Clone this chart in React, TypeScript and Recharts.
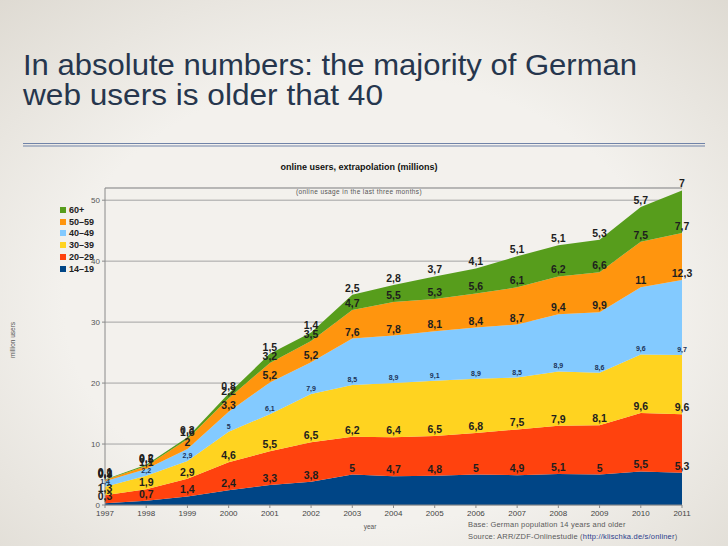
import React from 'react';
import {
  AreaChart,
  Area,
  XAxis,
  YAxis,
  CartesianGrid,
  ReferenceLine,
  LabelList,
  Legend,
} from 'recharts';

// online users by age group, millions (ARD/ZDF-Onlinestudie)
const years = ['1997', '1998', '1999', '2000', '2001', '2002', '2003', '2004', '2005', '2006', '2007', '2008', '2009', '2010', '2011'];
const age14to19 = [0.3, 0.7, 1.4, 2.4, 3.3, 3.8, 5, 4.7, 4.8, 5, 4.9, 5.1, 5, 5.5, 5.3];
const age20to29 = [1.3, 1.9, 2.9, 4.6, 5.5, 6.5, 6.2, 6.4, 6.5, 6.8, 7.5, 7.9, 8.1, 9.6, 9.6];
const age30to39 = [1.4, 2.2, 2.9, 5, 6.1, 7.9, 8.5, 8.9, 9.1, 8.9, 8.5, 8.9, 8.6, 9.6, 9.7];
const age40to49 = [0.9, 1.1, 2, 3.3, 5.2, 5.2, 7.6, 7.8, 8.1, 8.4, 8.7, 9.4, 9.9, 11, 12.3];
const age50to59 = [0.2, 0.5, 1.6, 2.2, 3.2, 3.5, 4.7, 5.5, 5.3, 5.6, 6.1, 6.2, 6.6, 7.5, 7.7];
const age60plus = [0.1, 0.2, 0.3, 0.8, 1.5, 1.4, 2.5, 2.8, 3.7, 4.1, 5.1, 5.1, 5.3, 5.7, 7];
const yTicks = [0, 10, 20, 30, 40, 50];
const Y_MAX = 52;

const series = [
  { key: 'a14', name: '14–19', color: '#004586', values: age14to19 },
  { key: 'a20', name: '20–29', color: '#ff420e', values: age20to29 },
  { key: 'a30', name: '30–39', color: '#ffd320', values: age30to39 },
  { key: 'a40', name: '40–49', color: '#83caff', values: age40to49 },
  { key: 'a50', name: '50–59', color: '#ff950e', values: age50to59 },
  { key: 'a60', name: '60+', color: '#579d1c', values: age60plus },
];

const data = years.map((year, i) => {
  const row: Record<string, any> = { year };
  series.forEach((s) => {
    row[s.key] = s.values[i];
  });
  return row;
});

const FONT = '"Liberation Sans", Arial, Helvetica, sans-serif';

const fmt = (v: any) => String(v).replace('.', ',');

const makeLabel = (small: boolean) => (props: any) => {
  const { x, y, value } = props;
  if (x == null || y == null) return null;
  return (
    <text
      x={x}
      y={y - 3}
      textAnchor="middle"
      fontFamily={FONT}
      fontSize={small ? 7 : 10.5}
      fontWeight="bold"
      fill={small ? '#1c3358' : '#1e1e1e'}
    >
      {fmt(value)}
    </text>
  );
};

const LegendBox = () => (
  <div style={{ fontFamily: FONT, fontSize: 9, fontWeight: 'bold', color: '#222' }}>
    {[...series].reverse().map((s) => (
      <div key={s.key} style={{ display: 'flex', alignItems: 'center', height: 11.8 }}>
        <span style={{ width: 6, height: 6, background: s.color, marginRight: 3 }} />
        {s.name}
      </div>
    ))}
  </div>
);

export default function App() {
  return (
    <div
      style={{
        position: 'absolute',
        left: 0,
        top: 0,
        width: 728,
        height: 546,
        overflow: 'hidden',
        background: 'radial-gradient(ellipse 75% 75% at 50% 55%, #f3f1ed 55%, #dedad2 100%)',
      }}
    >
      <svg width={728} height={546} style={{ position: 'absolute', left: 0, top: 0 }}>
        <text x={23} y={75} fontFamily={FONT} fontSize={29} fill="#26364d" textLength={614} lengthAdjust="spacingAndGlyphs">
          In absolute numbers: the majority of German
        </text>
        <text x={23} y={105} fontFamily={FONT} fontSize={29} fill="#26364d" textLength={360} lengthAdjust="spacingAndGlyphs">
          web users is older that 40
        </text>
        <line x1={23} x2={705} y1={143.5} y2={143.5} stroke="#7083a8" strokeWidth={1} />
        <line x1={23} x2={705} y1={146} y2={146} stroke="#7083a8" strokeWidth={1} />
        <text x={359} y={170} textAnchor="middle" fontFamily={FONT} fontSize={9} fontWeight="bold" fill="#111">
          online users, extrapolation (millions)
        </text>
        <text x={359} y={194} textAnchor="middle" fontFamily={FONT} fontSize={6.5} fill="#555" letterSpacing={0.4}>
          (online usage in the last three months)
        </text>
        <text
          transform="translate(15 340) rotate(-90)"
          textAnchor="middle"
          fontFamily={FONT}
          fontSize={6.5}
          fill="#555"
        >
          million users
        </text>
        <text x={370} y={529} textAnchor="middle" fontFamily={FONT} fontSize={6.5} fill="#555">
          year
        </text>
        <text x={468} y={527} fontFamily={FONT} fontSize={7.5} fill="#5a5a5a" letterSpacing={0.2}>
          Base: German population 14 years and older
        </text>
        <text x={468} y={539} fontFamily={FONT} fontSize={7.5} fill="#5a5a5a" letterSpacing={0.2}>
          Source: ARR/ZDF-Onlinestudie (<tspan fill="#2b3d8c">http://klischka.de/s/onliner</tspan>)
        </text>
      </svg>
      <div style={{ position: 'absolute', left: 0, top: 0 }}>
        <AreaChart width={728} height={546} data={data} margin={{ top: 188, right: 46, bottom: 21, left: 15 }}>
          <CartesianGrid vertical={false} stroke="#a3a3a3" strokeWidth={1} />
          <ReferenceLine y={Y_MAX} stroke="#a3a3a3" strokeWidth={1} />
          <XAxis
            dataKey="year"
            interval={0}
            height={20}
            tickSize={3}
            axisLine={{ stroke: '#8a8a8a' }}
            tickLine={{ stroke: '#8a8a8a' }}
            tick={{ fontSize: 8, fill: '#444', fontFamily: FONT }}
          />
          <YAxis
            width={30}
            domain={[0, Y_MAX]}
            ticks={yTicks}
            tickSize={3}
            axisLine={{ stroke: '#8a8a8a' }}
            tickLine={{ stroke: '#8a8a8a' }}
            tick={{ fontSize: 8, fill: '#555', fontFamily: FONT }}
          />
          <Legend
            layout="vertical"
            align="left"
            verticalAlign="top"
            content={<LegendBox />}
            wrapperStyle={{ position: 'absolute', left: 60, top: 204, width: 60 }}
          />
          {series.map((s) => (
            <Area
              key={s.key}
              type="linear"
              dataKey={s.key}
              name={s.name}
              stackId="users"
              stroke="none"
              fill={s.color}
              fillOpacity={1}
              isAnimationActive={false}
            >
              <LabelList dataKey={s.key} content={makeLabel(s.key === 'a30')} />
            </Area>
          ))}
        </AreaChart>
      </div>
    </div>
  );
}
